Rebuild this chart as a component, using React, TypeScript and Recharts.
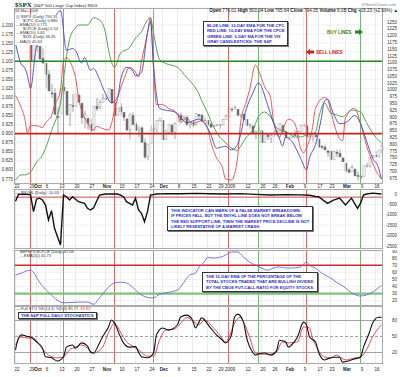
import {
  Bar,
  CartesianGrid,
  ComposedChart,
  Line,
  ReferenceLine,
  XAxis,
  YAxis,
} from 'recharts';

const FONT = '"Liberation Sans", Arial, sans-serif';

// S&P 500 daily candles, 22-Sep-2008 .. 18-Mar-2009 (123 sessions)
const opens = [1255,1207,1188,1187,1204,1209,1113,1162,1160,1115,1098,1057,989,988,902,912,1009,995,909,942,943,980,951,899,895,874,849,939,939,953,969,970,1002,952,907,937,917,893,853,905,874,852,860,805,756,802,853,852,886,888,818,843,869,844,882,906,892,898,871,882,871,909,905,886,887,874,864,869,871,871,890,903,929,931,928,905,909,890,869,867,842,845,849,807,834,822,832,837,848,868,845,824,825,839,832,847,868,867,827,830,833,819,792,789,775,773,744,770,765,749,730,705,698,708,684,680,679,720,719,752,758,754,776];
const highs = [1255,1214,1198,1215,1215,1210,1168,1164,1160,1153,1098,1072,1021,1005,936,1006,1045,995,948,985,985,985,951,922,896,893,941,970,964,985,984,1007,1003,952,931,951,917,893,913,917,882,866,865,821,801,868,869,888,897,888,851,873,875,879,918,917,905,905,881,884,914,909,912,898,888,880,870,874,874,891,910,935,936,943,928,911,912,890,877,867,851,869,849,841,834,838,853,852,878,868,851,830,843,851,850,871,875,869,838,836,839,819,797,797,779,777,775,780,780,751,730,712,724,708,699,689,720,731,751,759,774,778,803];
const lows = [1205,1187,1179,1187,1187,1106,1113,1140,1112,1098,1007,996,970,909,840,912,984,904,866,918,937,952,875,858,853,846,849,922,928,953,961,970,949,904,906,906,885,850,818,869,848,826,805,747,741,802,835,842,882,815,817,836,833,818,882,885,885,866,857,862,868,895,883,884,864,860,864,866,857,870,890,899,919,927,903,897,887,864,857,836,817,840,804,805,815,804,827,835,848,844,821,814,821,829,820,845,862,822,824,809,826,789,780,777,754,743,744,752,752,734,699,693,698,682,667,672,679,713,713,747,754,751,766];
const closes = [1207,1188,1186,1209,1213,1106,1166,1161,1114,1099,1057,996,985,910,899,1003,998,908,946,941,985,955,897,908,877,849,941,930,954,969,966,1006,953,905,931,919,899,852,911,873,851,859,807,752,800,852,857,888,896,816,849,871,845,876,910,889,899,874,880,869,913,904,885,888,872,863,868,873,869,891,903,932,927,935,907,910,890,870,872,843,844,850,805,840,828,832,837,846,874,845,826,825,839,832,846,869,870,827,834,835,827,789,788,779,770,743,773,765,753,735,701,696,713,683,683,677,720,721,751,757,754,778,794];

// [session index, value]
const cpcEma = [[0,1.15],[2,1.09],[3,1.083],[4,1.06],[5,1.025],[7,1.14],[8,1.15],[11,1.18],[15,1.24],[17,1.13],[19,1.135],[20,1.13],[22,1.095],[23,1.11],[25,1.075],[26,1.08],[28,1.05],[30,1.01],[32,0.985],[34,1.0],[35,1.047],[37,1.083],[39,1.075],[40,1.06],[42,1.07],[44,1.18],[45,1.21],[46,1.09],[48,0.97],[50,0.965],[53,0.96],[55,0.945],[57,0.93],[59,0.935],[61,0.94],[65,0.9],[67,0.86],[70,0.865],[72,0.855],[74,0.87],[77,0.97],[79,1.01],[81,1.04],[84,0.98],[86,0.93],[88,0.886],[89,0.866],[90,0.89],[92,0.88],[95,0.833],[97,0.8],[98,0.833],[100,0.87],[102,0.945],[103,0.99],[104,0.995],[106,0.955],[108,0.928],[109,0.928],[111,0.936],[113,0.95],[115,0.928],[117,0.88],[119,0.833],[121,0.806],[122,0.775]];
const cpceEma = [[0,1.005],[2,0.97],[3,0.945],[4,0.903],[5,0.922],[7,0.922],[9,0.917],[10,0.93],[12,0.95],[13,0.978],[15,1.02],[16,1.1],[17,1.11],[19,1.083],[20,1.055],[21,1.0],[24,0.93],[26,0.91],[27,0.92],[29,0.914],[31,0.91],[32,0.928],[33,0.964],[35,1.025],[36,1.047],[38,1.083],[40,1.07],[41,1.056],[42,1.1],[44,1.177],[45,1.22],[46,1.08],[47,0.98],[49,0.98],[51,0.97],[54,0.955],[55,0.93],[57,0.944],[59,0.928],[60,0.93],[62,0.936],[64,0.917],[65,0.88],[67,0.833],[69,0.806],[70,0.775],[72,0.772],[74,0.833],[75,0.928],[77,0.99],[78,1.02],[80,1.09],[81,1.075],[83,1.03],[85,1.0],[86,0.936],[88,0.89],[89,0.91],[91,0.94],[93,0.93],[95,0.86],[96,0.847],[97,0.86],[99,0.917],[100,0.97],[103,1.0],[104,0.995],[105,0.964],[108,0.886],[109,0.88],[110,0.944],[113,0.97],[115,0.928],[117,0.867],[119,0.82],[120,0.8],[122,0.775]];
const vixMa = [[0,31.5],[2,32.8],[3,32.8],[5,33.5],[7,36],[9,37.8],[11,41.6],[12,44],[14,48],[15,51],[16,57],[18,67],[20,70],[21,70.7],[24,70.7],[26,72.5],[28,72],[30,68.7],[31,64.4],[33,60],[35,63.6],[38,65],[40,67.4],[42,69],[44,72],[45,72.5],[46,68.7],[48,62],[50,61],[54,60],[57,57.5],[60,54.8],[61,53.5],[62,51.7],[64,48.5],[66,45],[68,42.4],[70,41],[72,39.6],[74,39],[75,40],[77,42.4],[79,44],[81,47.5],[83,48.7],[85,47.5],[87,44.7],[89,44],[91,43.4],[93,42.4],[95,42.4],[97,42.9],[100,43.6],[101,47],[103,51],[105,48.5],[107,48],[109,47.5],[112,49.2],[115,48.7],[117,46],[119,43.4],[122,40.9]];
const nyhl = [[0,-350],[1,-20],[3,-10],[5,-30],[6,-850],[7,-250],[8,-200],[9,-290],[10,-530],[11,-1250],[12,-800],[13,-1650],[14,-2050],[15,-2450],[16,-50],[17,-130],[18,-290],[19,-130],[21,-370],[23,-450],[24,-690],[25,-770],[26,-670],[28,-50],[30,0],[34,0],[35,-50],[36,-130],[37,-370],[39,-530],[40,-200],[41,-770],[42,-930],[43,-1330],[44,-850],[45,-50],[47,0],[50,20],[55,10],[60,30],[65,10],[70,0],[75,20],[80,-20],[85,-50],[90,-30],[95,-40],[98,-60],[100,-120],[101,-130],[104,-450],[106,-290],[108,-200],[110,-530],[112,-200],[114,-690],[115,-450],[116,-50],[117,0],[119,40],[122,0]];
const bpEma = [[0,56],[2,59],[5,63],[6,60],[7,53],[8,46],[11,32],[15,18],[16,17],[21,18],[24,18],[26,15],[28,24],[31,39],[33,45],[35,46],[37,45],[39,39],[42,28],[45,24],[46,24],[48,29],[50,31],[54,35],[56,45],[58,56],[60,59],[61,66],[63,75],[64,81],[66,80],[68,81],[70,84],[72,88.6],[74,88.6],[76,81.5],[78,74.5],[80,70],[82,66],[84,63],[86,66],[88,67.5],[90,66],[92,66],[95,67.5],[97,74.5],[98,70],[100,66],[102,59],[105,52],[107,46],[110,38],[112,31],[115,26.6],[117,28],[119,32],[122,41.7]];
const stochK = [[0,25],[1,47],[2,53],[4,50],[5,49],[7,40],[9,28],[10,12],[12,10],[14,4],[16,12],[17,30],[19,34],[20,28],[22,38],[24,32],[25,21],[26,19],[28,38],[29,49],[31,68],[32,81],[33,75],[35,49],[36,38],[38,30],[40,31],[41,21],[42,12],[44,10],[46,19],[47,53],[49,66],[51,62],[54,72],[55,86],[57,90],[59,81],[60,66],[61,75],[62,85],[65,66],[67,53],[69,43],[70,38],[72,53],[73,86],[74,92],[76,77],[77,49],[79,21],[80,15],[81,17],[83,19],[85,15],[87,23],[88,43],[90,40],[91,30],[92,34],[94,49],[96,77],[97,72],[98,49],[100,40],[101,21],[103,6],[104,8],[106,11],[108,11],[109,2],[111,4],[113,8],[115,11],[116,30],[118,58],[119,75],[121,86],[122,85.8]];
const stochD = [[0,34],[2,49],[4,47],[6,47],[8,34],[11,15],[14,10],[16,11.5],[18,25],[20,30],[22,34],[24,28],[26,19],[29,30],[31,57],[33,75],[35,58],[37,40],[39,32],[41,25],[44,13],[46,13],[48,43],[50,62],[53,64],[56,81],[57,86],[60,75],[61,72],[63,81],[66,66],[68,53],[70,40],[71,47],[73,75],[75,86],[76,77],[78,49],[80,19],[82,17],[85,17],[87,21],[89,40],[91,38],[94,40],[96,68],[98,66],[99,47],[100,34],[103,11.5],[105,9.6],[107,15],[110,6],[113,9.6],[115,11.5],[117,25],[119,49],[122,72]];

const tickDays = [0,5,7,10,15,20,25,30,35,40,45,49,54,59,64,68,71,77,82,86,91,96,101,105,110,115,120];
const tickText = ['22','29','Oct','6','13','20','27','Nov','10','17','24','Dec','8','15','22','29','2009','12','20','26','Feb','9','17','23','Mar','9','16'];
const sellDays = [5, 33, 71, 97];
const buyDays = [16, 46, 81, 115];

const ratioTicks = [1.2,1.175,1.15,1.125,1.1,1.075,1.05,1.025,1.0,0.975,0.95,0.925,0.9,0.875,0.85,0.825,0.8,0.775];
const priceTicks = [1250,1225,1200,1175,1150,1125,1100,1075,1050,1025,1000,975,950,925,900,875,850,825,800,775,750,725,700,675];
const nyhlTicks = [0,-500,-1000,-1500,-2000,-2500];
const bpTicks = [90,80,70,60,50,40,30,20];
const stoTicks = [80,50,20];

const rows: any[] = closes.map((c, i) => ({ i, o: opens[i], h: highs[i], l: lows[i], c }));
const put = (key: string, pairs: number[][]) => pairs.forEach(([i, v]) => { rows[i][key] = v; });
put('cpc', cpcEma);
put('cpce', cpceEma);
put('vix', vixMa);
put('nyhl', nyhl);
put('bp', bpEma);
put('k', stochK);
put('d', stochD);

const axisTick = { fontSize: 4.5, fill: '#333', fontFamily: FONT };

// right-hand labels sit flush right, like the StockCharts layout
const rightTick = (p: any) => (
  <text x={397} y={p.y} dy="0.355em" textAnchor="end" fontSize={4.5} fill="#333" fontFamily={FONT}>
    {p.payload.value}
  </text>
);

function Candle(props: any) {
  const { x, y, width, height, payload } = props;
  const top = Math.min(y, y + height);
  const bot = Math.max(y, y + height);
  const k = (bot - top) / Math.max(payload.h - payload.l, 0.001);
  const yo = top + (payload.h - payload.o) * k;
  const yc = top + (payload.h - payload.c) * k;
  const cx = x + width / 2;
  const up = payload.c >= payload.o;
  return (
    <g>
      <line x1={cx} x2={cx} y1={top} y2={bot} stroke="#7a7a7a" strokeWidth={0.7} />
      <rect x={x} y={Math.min(yo, yc)} width={width} height={Math.max(Math.abs(yc - yo), 0.7)}
        fill={up ? '#fff' : '#6e6e6e'} stroke={up ? '#9a9a9a' : '#6e6e6e'} strokeWidth={0.5} />
    </g>
  );
}

function dateTick(off: number) {
  return (p: any) => {
    const label = tickText[tickDays.indexOf(p.payload.value)] ?? '';
    const bold = isNaN(Number(label));
    return (
      <text x={p.x + 1.5} y={p.y + off} textAnchor="middle" fontSize={4.5} fontFamily={FONT}
        fontWeight={bold ? 700 : 400} fill="#222">{label}</text>
    );
  };
}

function gridAndEvents(yAxisId?: string) {
  const id = yAxisId ? { yAxisId } : {};
  return [
    ...tickDays.map((d) => <ReferenceLine key={'g' + d} x={d} {...id} stroke="#e6e6e6" strokeWidth={0.8} />),
    ...sellDays.map((d) => <ReferenceLine key={'s' + d} x={d} {...id} stroke="#e06a6a" strokeWidth={1} />),
    ...buyDays.map((d) => <ReferenceLine key={'b' + d} x={d} {...id} stroke="#74b874" strokeWidth={1} />),
  ];
}

const boxText: any = {
  position: 'absolute', background: '#fff', border: '0.8px solid #333', boxShadow: '1px 1px 0 #777',
  color: '#2a2ad0', fontFamily: FONT, fontWeight: 700, fontSize: 4.1, lineHeight: '5.6px',
  padding: '0.5px 3px', whiteSpace: 'nowrap',
};
const tiny: any = { fontFamily: FONT, fontSize: 4, lineHeight: '4.1px', whiteSpace: 'nowrap', color: '#333' };
const frame = (top: number, h: number): any => ({
  position: 'absolute', left: 14, top, width: 369, height: h, border: '0.6px solid #aaa',
  boxSizing: 'border-box', pointerEvents: 'none',
});

export default function App() {
  return (
    <div style={{ position: 'absolute', left: 0, top: 0, width: 400, height: 377, background: '#fff', overflow: 'hidden' }}>
      {/* price panel */}
      <div style={{ position: 'absolute', left: 0, top: 0 }}>
        <ComposedChart width={400} height={190} data={rows} margin={{ top: 8, right: 0, bottom: 0, left: 0 }} barCategoryGap={0}>
          <CartesianGrid yAxisId="ratio" vertical={false} stroke="#e9e9e9" strokeWidth={0.7} />
          <XAxis dataKey="i" type="category" scale="band" ticks={tickDays} interval={0} height={6}
            tickLine={false} axisLine={false} tickSize={0} tickMargin={0} tick={dateTick(4)} />
          <YAxis yAxisId="ratio" orientation="left" width={14} domain={[0.761, 1.247]} allowDataOverflow
            ticks={ratioTicks} interval={0} tickFormatter={(v: number) => v.toFixed(3)}
            tick={axisTick} tickLine={false} axisLine={false} tickSize={0} tickMargin={1} />
          <YAxis yAxisId="px" orientation="right" width={17} domain={[653, 1302]} allowDataOverflow
            ticks={priceTicks} interval={0} tick={rightTick} tickLine={false} axisLine={false} tickSize={0} />
          <YAxis yAxisId="vix" hide domain={[30.5, 75]} allowDataOverflow />
          {gridAndEvents('ratio')}
          <Bar yAxisId="px" dataKey={(d: any) => [d.l, d.h]} barSize={2} shape={(p: any) => <Candle {...p} />} isAnimationActive={false} />
          <Line yAxisId="vix" dataKey="vix" type="monotone" connectNulls dot={false} stroke="#3f9a3f" strokeWidth={0.9} isAnimationActive={false} />
          <Line yAxisId="ratio" dataKey="cpce" type="monotone" connectNulls dot={false} stroke="#e84a4a" strokeWidth={0.9} isAnimationActive={false} />
          <Line yAxisId="ratio" dataKey="cpc" type="monotone" connectNulls dot={false} stroke="#4545c4" strokeWidth={0.9} isAnimationActive={false} />
          <ReferenceLine yAxisId="ratio" y={1.1} stroke="#1f8a1f" strokeWidth={1.6} />
          <ReferenceLine yAxisId="ratio" y={0.9} stroke="#cc1f1f" strokeWidth={1.6} />
        </ComposedChart>
      </div>

      {/* $NYHL panel */}
      <div style={{ position: 'absolute', left: 0, top: 189 }}>
        <ComposedChart width={400} height={60} data={rows} margin={{ top: 0, right: 0, bottom: 0, left: 14 }}>
          <CartesianGrid vertical={false} stroke="#e9e9e9" strokeWidth={0.7} />
          <XAxis dataKey="i" type="category" scale="band" hide />
          <YAxis orientation="right" width={17} domain={[-2644, 240]} allowDataOverflow ticks={nyhlTicks} interval={0}
            tick={rightTick} tickLine={false} axisLine={false} tickSize={0} />
          {gridAndEvents()}
          <ReferenceLine y={-150} stroke="#d84040" strokeWidth={1} />
          <Line dataKey="nyhl" type="linear" connectNulls dot={false} stroke="#111" strokeWidth={1.4} isAnimationActive={false} />
        </ComposedChart>
      </div>

      {/* $BPSPX:$CPCE panel */}
      <div style={{ position: 'absolute', left: 0, top: 250 }}>
        <ComposedChart width={400} height={56} data={rows} margin={{ top: 0, right: 0, bottom: 0, left: 14 }}>
          <CartesianGrid vertical={false} stroke="#e9e9e9" strokeWidth={0.7} />
          <XAxis dataKey="i" type="category" scale="band" hide />
          <YAxis orientation="right" width={17} domain={[12.5, 91.4]} allowDataOverflow ticks={bpTicks} interval={0}
            tick={rightTick} tickLine={false} axisLine={false} tickSize={0} />
          {gridAndEvents()}
          <ReferenceLine y={70} stroke="#d42a2a" strokeWidth={1.5} />
          <ReferenceLine y={30} stroke="#7cc47c" strokeWidth={2.2} />
          <Line dataKey="bp" type="monotone" connectNulls dot={false} stroke="#6a6ad6" strokeWidth={0.9} isAnimationActive={false} />
        </ComposedChart>
      </div>

      {/* stochastics panel */}
      <div style={{ position: 'absolute', left: 0, top: 306 }}>
        <ComposedChart width={400} height={68} data={rows} margin={{ top: 0, right: 0, bottom: 0, left: 14 }}>
          <XAxis dataKey="i" type="category" scale="band" ticks={tickDays} interval={0} height={10}
            tickLine={false} axisLine={false} tickSize={0} tickMargin={0} tick={dateTick(6.5)} />
          <YAxis orientation="right" width={17} domain={[-1.6, 107.2]} allowDataOverflow ticks={stoTicks} interval={0}
            tick={rightTick} tickLine={false} axisLine={false} tickSize={0} />
          {gridAndEvents()}
          <ReferenceLine y={80} stroke="#8a8a8a" strokeWidth={0.8} />
          <ReferenceLine y={50} stroke="#8a8a8a" strokeWidth={0.8} strokeDasharray="3 2" />
          <ReferenceLine y={20} stroke="#8a8a8a" strokeWidth={0.8} />
          <Line dataKey="d" type="monotone" connectNulls dot={false} stroke="#e23a3a" strokeWidth={0.9} isAnimationActive={false} />
          <Line dataKey="k" type="monotone" connectNulls dot={false} stroke="#111" strokeWidth={1.1} isAnimationActive={false} />
        </ComposedChart>
      </div>

      <div style={frame(8, 176)} />
      <div style={frame(189, 60)} />
      <div style={frame(250, 56)} />
      <div style={frame(306, 58)} />

      {/* header */}
      <div style={{ position: 'absolute', left: 15, top: 1, fontFamily: '"Liberation Serif", serif', fontWeight: 700, fontSize: 7, color: '#222' }}>
        $SPX <span style={{ fontFamily: FONT, fontWeight: 400, fontSize: 4.3 }}>(S&amp;P 500 Large Cap Index) INDX</span>
      </div>
      <div style={{ ...tiny, position: 'absolute', left: 15, top: 9 }}>18-Mar-2009</div>
      <div style={{ ...tiny, position: 'absolute', right: 4, top: 3, color: '#777' }}>@StockCharts.com</div>
      <div style={{ ...tiny, position: 'absolute', right: 2, top: 9, fontSize: 4.6, color: '#222' }}>
        <b>Open</b> 776.01 <b>High</b> 803.04 <b>Low</b> 765.64 <b>Close</b> 794.35 <b>Volume</b> 8.0B <b>Chg</b> +16.23 (+2.09%) ▲
      </div>

      {/* price legend */}
      <div style={{ ...tiny, position: 'absolute', left: 15, top: 15, background: '#fff', padding: '0 2px 1px 1px' }}>
        <div><span style={{ color: '#888' }}>▥</span> $SPX (Daily) 794.35</div>
        <div style={{ paddingLeft: 7 }}>$CPC (Daily) 0.880</div>
        <div><span style={{ color: '#4545c4' }}>—</span>EMA(10) 0.771</div>
        <div style={{ paddingLeft: 7 }}>$CPCE (Daily) 0.54</div>
        <div><span style={{ color: '#e84a4a' }}>—</span>EMA(10) 0.65</div>
        <div style={{ paddingLeft: 7 }}>$VIX (Daily) 46.35</div>
        <div><span style={{ color: '#3f9a3f' }}>—</span>MA(5) 45.63</div>
      </div>

      <div style={{ ...boxText, left: 203, top: 21 }}>
        BLUE LINE: 10-DAY EMA FOR THE CPC<br />RED LINE: 10-DAY EMA FOR THE CPCE<br />
        GREEN LINE: 5-DAY MA FOR THE VIX<br />GRAY CANDLESTICKS: THE S&amp;P
      </div>
      <div style={{ position: 'absolute', left: 327, top: 29, fontFamily: FONT, fontWeight: 700, fontSize: 4.6, color: '#1f8a1f', display: 'flex', alignItems: 'center', gap: 4 }}>
        BUY LINES
        <svg width={8} height={6}><polygon points="0,1.5 4,1.5 4,0 8,3 4,6 4,4.5 0,4.5" fill="#1f8a1f" /></svg>
      </div>
      <div style={{ position: 'absolute', left: 306, top: 49, fontFamily: FONT, fontWeight: 700, fontSize: 4.6, color: '#d42020', display: 'flex', alignItems: 'center', gap: 2 }}>
        <svg width={8} height={6}><polygon points="8,1.5 4,1.5 4,0 0,3 4,6 4,4.5 8,4.5" fill="#d42020" /></svg>
        SELL LINES
      </div>

      {/* lower legends */}
      <div style={{ ...tiny, position: 'absolute', left: 16, top: 191 }}>
        <span style={{ color: '#111' }}>—</span> $NYHL (Daily) -10.33
      </div>
      <div style={{ ...boxText, left: 167, top: 206 }}>
        THIS INDICATOR CAN WARN OF A FALSE MARKET BREAKDOWN.<br />
        IF PRICES FALL, BUT THE $NYHL LINE DOES NOT BREAK BELOW<br />
        THE RED SUPPORT LINE, THEN THE MARKET PRICE DECLINE IS NOT<br />
        LIKELY RESENTATIVE OF A MARKET CRASH.
      </div>
      <div style={{ ...tiny, position: 'absolute', left: 20, top: 250 }}>
        <div>$BPSPX:$CPCE (Daily) 67.04</div>
        <div><span style={{ color: '#6a6ad6' }}>—</span>EMA(10) 41.73</div>
      </div>
      <div style={{ ...boxText, left: 202, top: 272 }}>
        THE 10-DAY EMA OF THE PERCENTAGE OF THE<br />
        TOTAL STOCKS TRADED THAT ARE BULLISH DIVIDED<br />
        BY THE CBOE PUT-CALL RATIO FOR EQUITY STOCKS.
      </div>
      <div style={{ ...tiny, position: 'absolute', left: 16, top: 307 }}>
        <span style={{ color: '#111' }}>—</span> Full STO %K(14,3) %D(3) 85.77, <span style={{ color: '#e23a3a' }}>83.82</span>
      </div>
      <div style={{ ...boxText, left: 18, top: 312, lineHeight: '5px', padding: '0 2px' }}>THE S&amp;P FULL DAILY STOCHASTICS</div>
    </div>
  );
}
